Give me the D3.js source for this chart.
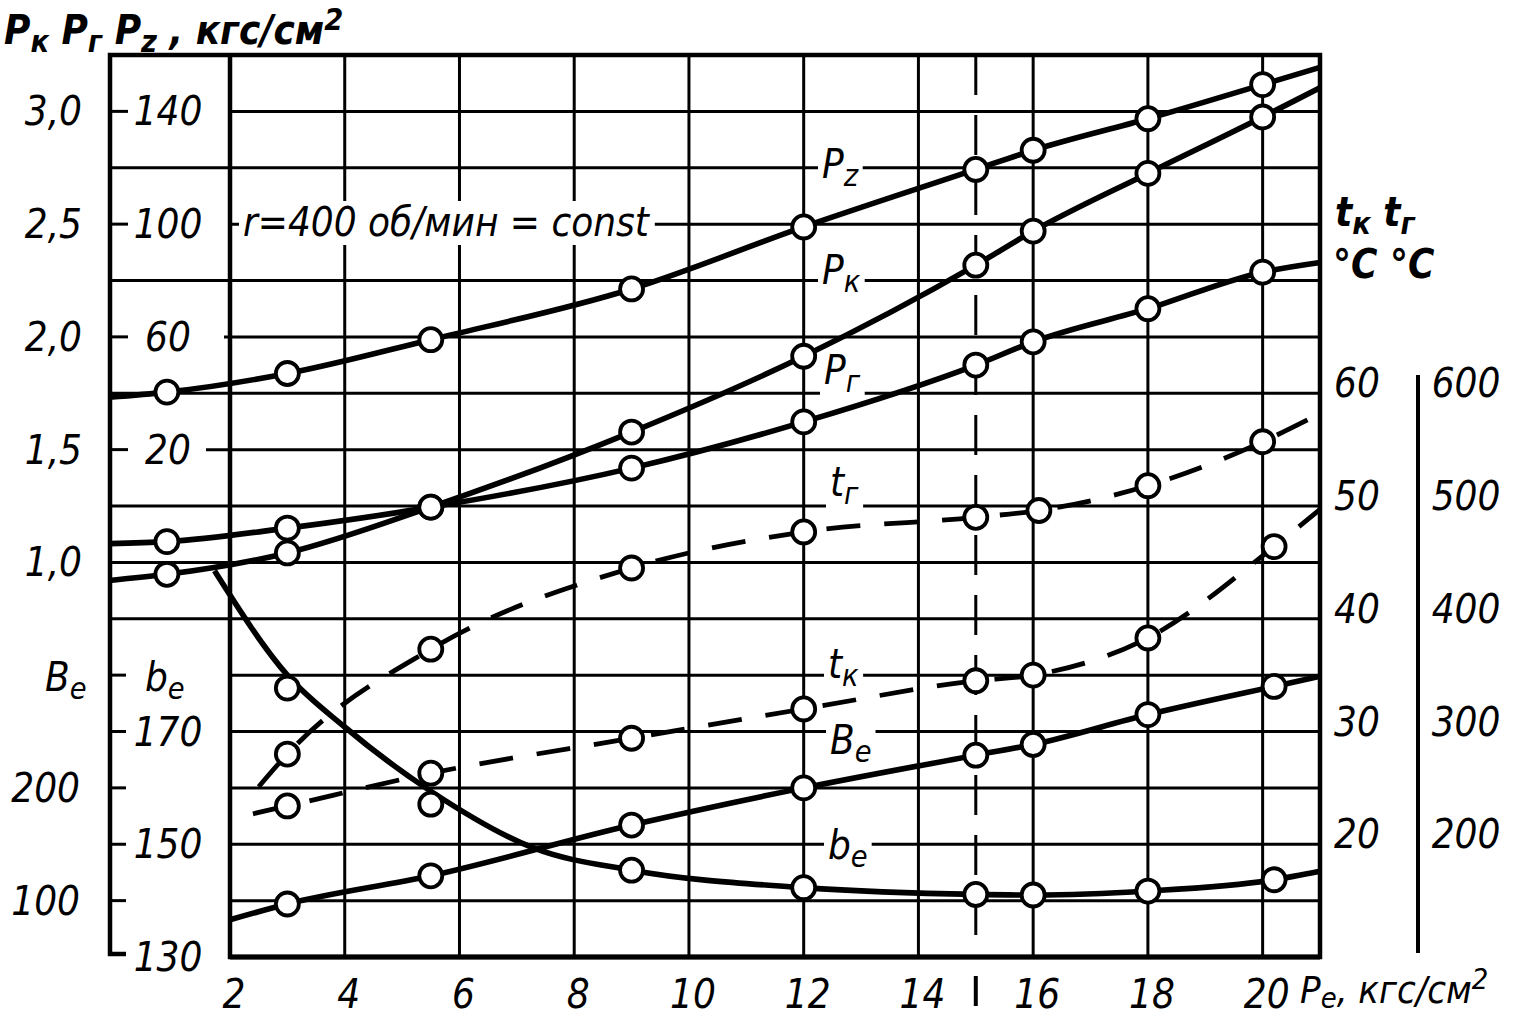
<!DOCTYPE html>
<html><head><meta charset="utf-8">
<script src="https://cdn.jsdelivr.net/npm/d3@7"></script>
<style>
body{margin:0;background:#fff}
text{font-family:"Liberation Sans Narrow","DejaVu Sans Condensed","Roboto Condensed",sans-serif;font-style:italic;fill:#000}
</style></head><body>
<svg id="c" width="1523" height="1022"></svg>
<script>
// ---------- data ----------
// measured points, Pe in kgf/cm2
const loadsP   = [0.9, 3, 5.5, 9, 12, 15, 16, 18, 20];
const pzPts    = [40.4, 47, 59, 77, 99, 119.4, 126.2, 137.4, 149.5];
const pkPts    = [0.947, 1.042, 1.245, 1.578, 1.914, 2.318, 2.469, 2.725, 2.975];
const prPts    = [1.092, 1.152, 1.245, 1.418, 1.623, 1.875, 1.978, 2.125, 2.287];
const loadsTr  = [3, 5.5, 9, 12, 15, 16.1, 18, 20];
const trPts    = [280, 373, 445, 477, 490, 496, 518, 557];
const loadsTkB = [3, 5.5, 9, 12, 15, 16, 18, 20.2];
const tkPts    = [23.4, 26.3, 29.4, 32.0, 34.5, 35.0, 38.3, 46.4];
const BePts    = [97, 122, 167, 200, 229, 238.5, 265, 290];
const bePts    = [177.7, 157.1, 145.4, 142.3, 141.1, 141.0, 141.7, 143.7];
// fitted curves
const pLineX   = [-0.1, 0.9, 3, 5.5, 9, 12, 15, 16, 18, 20, 21];
const pzLine   = [38.6, 40.4, 47, 59, 77, 99, 119.4, 126.2, 137.4, 149.5, 155.6];
const pkLine   = [0.92, 0.947, 1.042, 1.245, 1.578, 1.914, 2.318, 2.469, 2.725, 2.975, 3.105];
const prLine   = [1.083, 1.092, 1.152, 1.245, 1.418, 1.623, 1.875, 1.978, 2.125, 2.287, 2.33];
const trLineX  = [2.5, 3, 5.5, 9, 12, 15, 16.1, 18, 20, 21];
const trLine   = [251, 280, 373, 445, 477, 490, 496, 518, 557, 582];
const tkLineX  = [2.4, 3, 5.5, 9, 12, 15, 16, 18, 20.2, 21];
const tkLine   = [22.7, 23.4, 26.3, 29.4, 32.0, 34.5, 35.0, 38.3, 46.4, 49.7];
const BLineX   = [2, 3, 5.5, 9, 12, 15, 16, 18, 20.2, 21];
const BLine    = [83, 97, 122, 167, 200, 229, 238.5, 265, 290, 299];
const bLineX   = [1.73, 3, 4, 5.5, 7.3, 9, 12, 15, 16, 18, 20.2, 21];
const bLine    = [198.5, 180, 170.8, 159.4, 149.3, 145.4, 142.3, 141.1, 141.0, 141.7, 143.7, 145.2];
const refLoad  = [15];
// tick labels
const xTicks   = [2, 4, 6, 8, 10, 12, 14, 16, 18, 20];
const pTicks   = [3.0, 2.5, 2.0, 1.5, 1.0];
const pzTicks  = [140, 100, 60, 20];
const BTicks   = [200, 100];
const bTicks   = [170, 150, 130];
const tkTicks  = [60, 50, 40, 30, 20];
const trTicks  = [600, 500, 400, 300, 200];

// ---------- layout ----------
const M = {spine:110, left:230, right:1320, top:55, bottom:957};
const svg = d3.select("#c");
const x   = d3.scaleLinear().domain([2, 21]).range([M.left, M.right]);
const yP  = d3.scaleLinear().domain([-0.75, 3.25]).range([M.bottom, M.top]);
const yPz = d3.scaleLinear().domain([-160, 160]).range([M.bottom, M.top]);
const yB  = d3.scaleLinear().domain([50, 850]).range([M.bottom, M.top]);
const yb  = d3.scaleLinear().domain([130, 290]).range([M.bottom, M.top]);
const yTk = d3.scaleLinear().domain([10, 90]).range([M.bottom, M.top]);
const yTr = d3.scaleLinear().domain([100, 900]).range([M.bottom, M.top]);

const grid = svg.append("g").attr("stroke", "#000").attr("stroke-width", 3);
const rows = d3.range(17).map(k => 3.25 - 0.25 * k);
rows.forEach((v, k) => {
  const y = yP(v);
  if (k === 0 || k === 16) return;
  if ([1, 3, 5, 7].includes(k)) {
    grid.append("line").attr("x1", M.spine).attr("x2", M.spine + 18).attr("y1", y).attr("y2", y);
    const start = k === 7 ? M.left - 24 : (k === 5 ? M.left - 6 : M.left);
    grid.append("line").attr("x1", start).attr("x2", M.right).attr("y1", y).attr("y2", y);
  } else if (k >= 11) {
    grid.append("line").attr("x1", M.spine).attr("x2", M.spine + 16).attr("y1", y).attr("y2", y);
    grid.append("line").attr("x1", M.left).attr("x2", M.right).attr("y1", y).attr("y2", y);
  } else {
    grid.append("line").attr("x1", M.spine).attr("x2", M.right).attr("y1", y).attr("y2", y);
  }
});
xTicks.forEach(v => {
  grid.append("line").attr("x1", x(v)).attr("x2", x(v)).attr("y1", M.top).attr("y2", M.bottom)
    .attr("stroke-width", v === 2 ? 3.5 : 3);
});
grid.selectAll(".ref").data(refLoad).enter().append("line")
  .attr("x1", d => x(d)).attr("x2", d => x(d)).attr("y1", M.top).attr("y2", M.bottom)
  .attr("stroke-dasharray", "40,20").attr("stroke-width", 3);
const fr = svg.append("g").attr("stroke", "#000").attr("stroke-width", 4.5).attr("fill", "none");
fr.append("path").attr("d", `M${M.spine + 16},${M.bottom - 3}H${M.spine}V${M.top}H${M.right}V${M.bottom}H${M.left}V${M.top}`);
fr.append("line").attr("x1", M.left).attr("x2", M.right).attr("y1", M.bottom).attr("y2", M.bottom).attr("stroke-width", 5);
fr.append("line").attr("x1", 1418).attr("x2", 1418).attr("y1", 375).attr("y2", 953).attr("stroke-width", 4);
fr.selectAll(".rm").data(refLoad).enter().append("line")
  .attr("x1", d => x(d)).attr("x2", d => x(d)).attr("y1", 976).attr("y2", 1006).attr("stroke-width", 4);

// ---------- annotation labels with white knock-out ----------
const T = svg.append("g");
function label(xp, yp, parts, opts = {}) {
  const fs = opts.size || 40;
  const g = (opts.layer || T).append("g");
  const t = g.append("text").attr("x", xp).attr("y", yp).attr("font-size", fs)
    .attr("text-anchor", opts.anchor || "start").attr("dominant-baseline", "central");
  if (opts.weight) t.attr("font-weight", opts.weight);
  let shift = 0;
  const subOff = opts.subOff || 11;
  parts.forEach(p => {
    const [s, kind] = Array.isArray(p) ? p : [p, null];
    const target = kind === "sub" ? subOff : kind === "sup" ? -11 : 0;
    t.append("tspan").attr("dy", target - shift).attr("font-size", kind ? fs * 0.76 : fs).text(s);
    shift = target;
  });
  if (opts.knock) {
    const b = t.node().getBBox();
    g.insert("rect", "text").attr("x", b.x - 4).attr("y", b.y + 2).attr("width", b.width + 8)
      .attr("height", b.height - 2).attr("fill", "#fff");
  }
  return t;
}
const A = svg.append("g");
label(243, 222, ["r=400 об/мин = const"], {knock: true, layer: A});

// ---------- curves ----------
const curves = svg.append("g").attr("fill", "none").attr("stroke", "#000").attr("stroke-linecap", "butt");
function drawCurve(xs, ys, sc, dashed) {
  const line = d3.line().x(d => x(d[0])).y(d => sc(d[1])).curve(d3.curveMonotoneX);
  curves.append("path").attr("d", line(d3.zip(xs, ys)))
    .attr("stroke-width", dashed ? 4.8 : 5.6)
    .attr("stroke-dasharray", dashed ? "34,24" : null);
}
drawCurve(pLineX, pzLine, yPz);
drawCurve(pLineX, pkLine, yP);
drawCurve(pLineX, prLine, yP);
drawCurve(trLineX, trLine, yTr, true);
drawCurve(tkLineX, tkLine, yTk, true);
drawCurve(BLineX, BLine, yB);
drawCurve(bLineX, bLine, yb);

// ---------- points ----------
const pts = svg.append("g").attr("fill", "#fff").attr("stroke", "#000").attr("stroke-width", 3.8);
function drawPts(xs, ys, sc) {
  pts.selectAll(null).data(d3.zip(xs, ys)).enter().append("circle")
    .attr("cx", d => x(d[0])).attr("cy", d => sc(d[1])).attr("r", 11.5);
}
drawPts(loadsP, pzPts, yPz);
drawPts(loadsP, pkPts, yP);
drawPts(loadsP, prPts, yP);
drawPts(loadsTr, trPts, yTr);
drawPts(loadsTkB, tkPts, yTk);
drawPts(loadsTkB, BePts, yB);
drawPts(loadsTkB, bePts, yb);

// ---------- axis text ----------
const fmtP = d => d3.format(".1f")(d).replace(".", ",");
pTicks.forEach(v => label(82, yP(v), [fmtP(v)], {anchor: "end"}));
pzTicks.forEach(v => label(168, yPz(v), [String(v)], {anchor: "middle"}));
BTicks.forEach(v => label(80, yB(v), [String(v)], {anchor: "end"}));
bTicks.forEach(v => label(168, yb(v), [String(v)], {anchor: "middle"}));
label(45, yb(180) + 2, ["B", ["e", "sub"]]);
label(145, yb(180) + 2, ["b", ["e", "sub"]]);
tkTicks.forEach(v => label(1357, yTk(v) - 10, [String(v)], {anchor: "middle"}));
trTicks.forEach(v => label(1466, yTr(v) - 10, [String(v)], {anchor: "middle"}));
label(1335, 212, ["t", ["к", "sub"], " t", ["г", "sub"]], {weight: "bold"});
label(1333, 264, ["°C °C"], {weight: "bold"});
xTicks.forEach(v => label(x(v) + 4, 994, [String(v)], {anchor: "middle"}));
label(1300, 990, ["P", ["e", "sub"], ", кгс/см", ["2", "sup"]], {size: 38, subOff: 8});
label(4, 30, ["P", ["к", "sub"], " P", ["г", "sub"], " P", ["z", "sub"], " , кгс/см", ["2", "sup"]], {size: 40, weight: "bold"});
// curve names
label(822, 164, ["P", ["z", "sub"]], {knock: true});
label(822, 270, ["P", ["к", "sub"]], {knock: true});
label(824, 370, ["P", ["г", "sub"]], {knock: true});
label(830, 482, ["t", ["г", "sub"]], {knock: true});
label(828, 664, ["t", ["к", "sub"]], {knock: true});
label(830, 740, ["B", ["e", "sub"]], {knock: true});
label(828, 845, ["b", ["e", "sub"]], {knock: true});
</script>
</body></html>
